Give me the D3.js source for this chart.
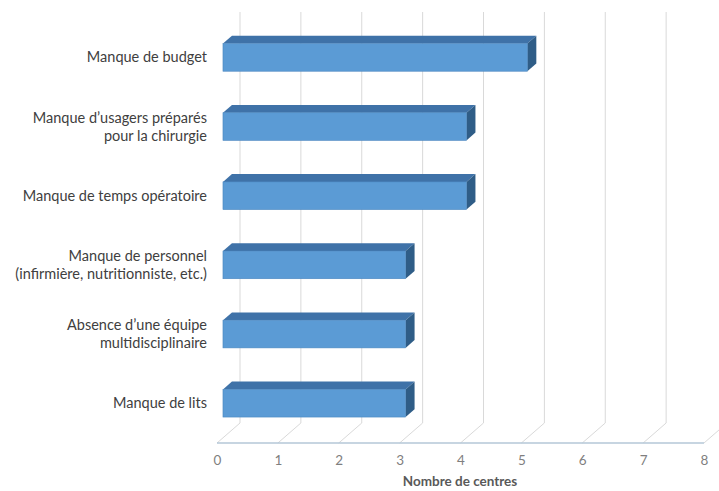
<!DOCTYPE html>
<html>
<head>
<meta charset="utf-8">
<script src="https://cdn.jsdelivr.net/npm/d3@7"></script>
<style>
  html, body { margin: 0; padding: 0; background: #fff; }
  svg { display: block; }
</style>
</head>
<body>
<svg id="chart" width="719" height="491"></svg>
<script>
// Obstacles reported, number of centres
const categories = [
  ["Manque de budget"],
  ["Manque d\u2019usagers préparés", "pour la chirurgie"],
  ["Manque de temps opératoire"],
  ["Manque de personnel", "(infirmière, nutritionniste, etc.)"],
  ["Absence d\u2019une équipe", "multidisciplinaire"],
  ["Manque de lits"]
];
const values = [5, 4, 4, 3, 3, 3];
const tickValues = [0, 1, 2, 3, 4, 5, 6, 7, 8];
const axisTitle = "Nombre de centres";

const svg = d3.select("#chart");
const font = "Lato, 'Open Sans', sans-serif";

// Front plane of the 3-D box
const x = d3.scaleLinear().domain([0, 8]).range([217, 704]);
const y = d3.scaleBand().domain(d3.range(categories.length)).range([28, 443]).paddingInner(0.6).paddingOuter(0.3);
const depth = { dx: 23, dy: -20 };       // full depth of the box
const barDepth = { start: 0.26, end: 0.65 }; // bar slab inside the depth

const floorY = 443;
const backTop = 12;

// Back wall gridlines and floor diagonals
const grid = svg.append("g");
tickValues.forEach(t => {
  const fx = x(t);
  grid.append("line")
    .attr("x1", fx + depth.dx).attr("x2", fx + depth.dx)
    .attr("y1", backTop).attr("y2", floorY + depth.dy)
    .attr("stroke", "#d9d9d9").attr("stroke-width", 1);
  grid.append("line")
    .attr("x1", fx).attr("y1", floorY)
    .attr("x2", fx + depth.dx).attr("y2", floorY + depth.dy)
    .attr("stroke", "#d9d9d9").attr("stroke-width", 1);
});

// Front floor edge (axis line)
svg.append("line")
  .attr("x1", x(0)).attr("x2", x(8))
  .attr("y1", floorY).attr("y2", floorY)
  .attr("stroke", "#b4c7d7").attr("stroke-width", 1.5);

// Bars as 3-D slabs
const bars = svg.append("g");
values.forEach((v, i) => {
  const ox = depth.dx * barDepth.start, oy = depth.dy * barDepth.start;
  const dx = depth.dx * (barDepth.end - barDepth.start), dy = depth.dy * (barDepth.end - barDepth.start);
  const x0 = x(0) + ox, x1 = x(v) + ox;
  const y0 = y(i) + oy, y1 = y(i) + y.bandwidth() + oy;
  // top face
  bars.append("path")
    .attr("d", `M${x0},${y0} L${x0 + dx},${y0 + dy} L${x1 + dx},${y0 + dy} L${x1},${y0} Z`)
    .attr("fill", "#3f72a8");
  // side face
  bars.append("path")
    .attr("d", `M${x1},${y0} L${x1 + dx},${y0 + dy} L${x1 + dx},${y1 + dy} L${x1},${y1} Z`)
    .attr("fill", "#2f5d87");
  // front face
  bars.append("rect")
    .attr("x", x0).attr("y", y0)
    .attr("width", x1 - x0).attr("height", y1 - y0)
    .attr("fill", "#5b9bd5")
    .attr("stroke", "#4a86bf").attr("stroke-width", 0.6);
});

// Category labels
const labels = svg.append("g")
  .attr("font-family", font).attr("font-size", 14.5).attr("fill", "#404040")
  .attr("text-anchor", "end");
categories.forEach((lines, i) => {
  const cy = y(i) + y.bandwidth() / 2 + depth.dy * barDepth.start;
  const lh = 18;
  const t = labels.append("text").attr("x", 207);
  lines.forEach((ln, j) => {
    t.append("tspan")
      .attr("x", 207)
      .attr("y", cy + (j - (lines.length - 1) / 2) * lh)
      .attr("dy", "0.35em")
      .text(ln);
  });
});

// Value axis ticks
const axis = d3.axisBottom(x).tickValues(tickValues).tickSize(0).tickPadding(0).tickFormat(d3.format("d"));
const ag = svg.append("g").attr("transform", `translate(0, ${floorY + 12})`).call(axis);
ag.select(".domain").remove();
ag.selectAll("text")
  .attr("font-family", font).attr("font-size", 13.5).attr("fill", "#7f7f7f")
  .attr("dy", "0.71em");

// Axis title
svg.append("text")
  .attr("x", 460).attr("y", 486)
  .attr("text-anchor", "middle")
  .attr("font-family", font).attr("font-size", 13.5).attr("font-weight", "bold")
  .attr("fill", "#595959")
  .text(axisTitle);
</script>
</body>
</html>
